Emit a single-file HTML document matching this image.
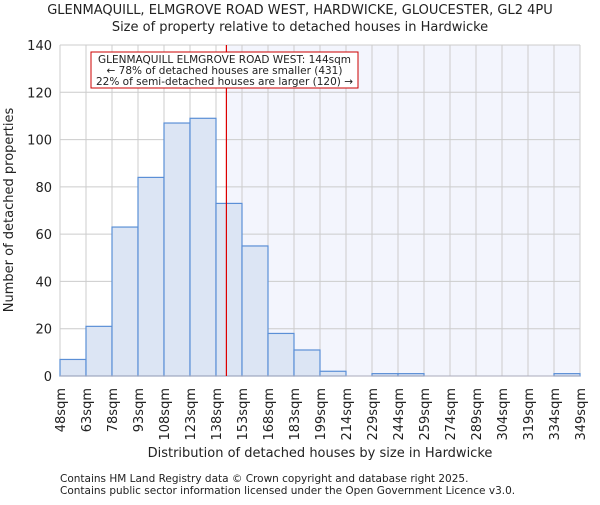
<!DOCTYPE html>
<html><head><meta charset="utf-8"><style>body{margin:0;background:#fff}svg text{font-family:"DejaVu Sans","Liberation Sans",sans-serif;fill:#222}</style></head>
<body>
<svg id="c" width="600" height="500"></svg>
<script>
const binLabels=["48sqm","63sqm","78sqm","93sqm","108sqm","123sqm","138sqm","153sqm","168sqm","183sqm","199sqm","214sqm","229sqm","244sqm","259sqm","274sqm","289sqm","304sqm","319sqm","334sqm","349sqm"];
const counts=[7,21,63,84,107,109,73,55,18,11,2,0,1,1,0,0,0,0,0,1];
const yTicks=[0,20,40,60,80,100,120,140];
const markerValue=144;
const binStart=48, binStep=15;
const L=60,R=580,T=45,B=376,yMax=140;
const ns="http://www.w3.org/2000/svg",svg=document.getElementById('c');
const bw=(R-L)/counts.length;
const x=i=>L+i*bw, y=v=>B-(v/yMax)*(B-T);
const xv=v=>L+(v-binStart)/binStep*bw;
function el(t,a,txt){const e=document.createElementNS(ns,t);for(const k in a)e.setAttribute(k,a[k]);if(txt!=null)e.textContent=txt;svg.appendChild(e);return e;}
let e;
e=el('rect',{x:xv(markerValue),y:T,width:R-xv(markerValue),height:B-T,fill:'#f3f5fd'});


for(const t of yTicks){e=el('line',{x1:L,x2:R,y1:y(t),y2:y(t),stroke:'#ccc'});


e=el('text',{x:L-8,y:y(t)+5,'text-anchor':'end','font-size':13},t);

}
for(let i=0;i<binLabels.length;i++){e=el('line',{x1:x(i),x2:x(i),y1:T,y2:B,stroke:'#ccc'});


e=el('text',{transform:`translate(${x(i)+5},388) rotate(-90)`,'text-anchor':'end','font-size':13},binLabels[i]);

}
counts.forEach((v,i)=>{if(v<=0)return;e=el('rect',{x:x(i),y:y(v),width:bw,height:B-y(v),fill:'#dce5f4',stroke:'#5b8fd6','stroke-width':1.2});

});
e=el('line',{x1:L,x2:R,y1:B,y2:B,stroke:'#aab'});


e=el('line',{x1:xv(markerValue),x2:xv(markerValue),y1:T,y2:B,stroke:'#d00','stroke-width':1.2});


e=el('rect',{x:91,y:52,width:267,height:36,fill:'#fff',stroke:'#c00'});


["GLENMAQUILL ELMGROVE ROAD WEST: 144sqm","← 78% of detached houses are smaller (431)","22% of semi-detached houses are larger (120) →"].forEach((s,i)=>{e=el('text',{x:224.5,y:63+i*11,'text-anchor':'middle','font-size':10.5},s);

});
e=el('text',{x:300,y:14,'text-anchor':'middle','font-size':13},"GLENMAQUILL, ELMGROVE ROAD WEST, HARDWICKE, GLOUCESTER, GL2 4PU");


e=el('text',{x:300,y:31,'text-anchor':'middle','font-size':13},"Size of property relative to detached houses in Hardwicke");


e=el('text',{x:320,y:457,'text-anchor':'middle','font-size':13},"Distribution of detached houses by size in Hardwicke");


e=el('text',{transform:'translate(13,210) rotate(-90)','text-anchor':'middle','font-size':13},"Number of detached properties");


e=el('text',{x:60,y:482,'font-size':10.5},"Contains HM Land Registry data © Crown copyright and database right 2025.");


e=el('text',{x:60,y:494,'font-size':10.5},"Contains public sector information licensed under the Open Government Licence v3.0.");


</script>
</body></html>
